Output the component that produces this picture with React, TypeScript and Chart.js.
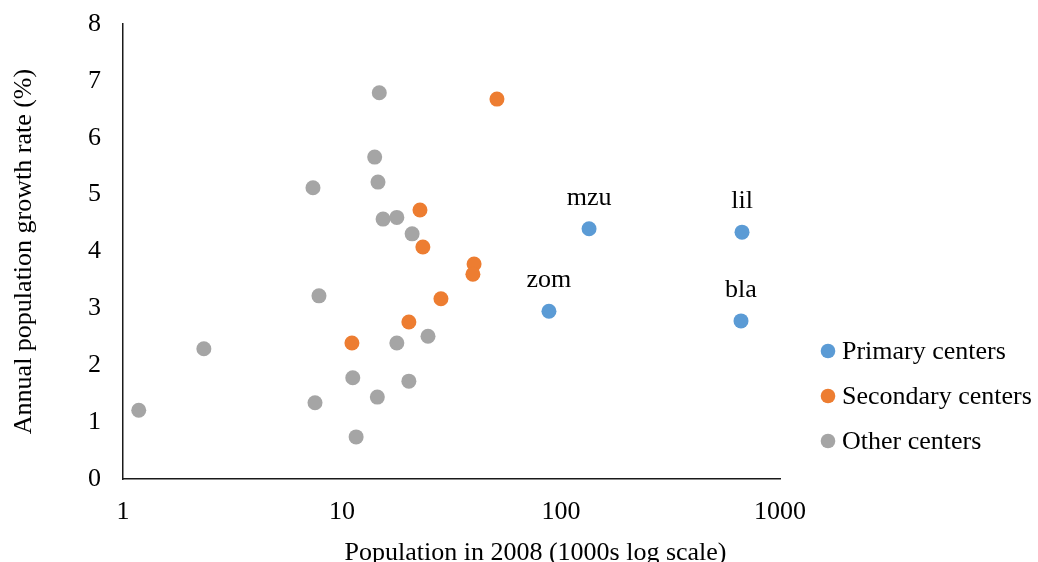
import { useEffect, useRef } from "react";
import { Chart, registerables } from "chart.js";

Chart.register(...registerables);

// Population in 2008 (thousands) and annual growth rate (%)
const primaryNames = ["mzu", "lil", "zom", "bla"];
const primaryPop = [134.3, 670.8, 88.1, 663.6];
const primaryRate = [4.4, 4.34, 2.95, 2.78];

const secondaryPop = [51.0, 22.7, 23.4, 40.1, 39.6, 28.3, 20.2, 11.1];
const secondaryRate = [6.68, 4.73, 4.08, 3.78, 3.6, 3.17, 2.76, 2.39];

const otherPop = [14.8, 14.1, 14.6, 7.37, 15.4, 17.8, 20.9, 7.85, 2.34, 24.7, 17.8, 11.2, 20.2, 7.53, 14.5, 1.18, 11.6];
const otherRate = [6.79, 5.66, 5.22, 5.12, 4.57, 4.6, 4.31, 3.22, 2.29, 2.51, 2.39, 1.78, 1.72, 1.34, 1.44, 1.21, 0.74];

const seriesNames = ["Primary centers", "Secondary centers", "Other centers"];
const seriesColors = ["#5B9BD5", "#ED7D31", "#A5A5A5"];

const xTickValues = [1, 10, 100, 1000];
const yMin = 0;
const yMax = 8;
const yStep = 1;

const xTitle = "Population in 2008 (1000s log scale)";
const yTitle = "Annual population growth rate (%)";

const FONT = '"Liberation Serif", "Times New Roman", serif';
const FONT_SIZE = 26;

const toPoints = (xs: number[], ys: number[]) => xs.map((x, i) => ({ x, y: ys[i] }));

const pointLabelPlugin = {
  id: "pointLabels",
  afterDatasetsDraw(chart: any) {
    const meta = chart.getDatasetMeta(0);
    const ctx = chart.ctx;
    ctx.save();
    ctx.font = `${FONT_SIZE}px ${FONT}`;
    ctx.fillStyle = "#000";
    ctx.textAlign = "center";
    ctx.textBaseline = "alphabetic";
    meta.data.forEach((el: any, i: number) => {
      ctx.fillText(primaryNames[i], el.x, el.y - 24);
    });
    ctx.restore();
  },
};

const sideLegendPlugin = {
  id: "sideLegend",
  afterDraw(chart: any) {
    const ctx = chart.ctx;
    const area = chart.chartArea;
    ctx.save();
    ctx.font = `${FONT_SIZE}px ${FONT}`;
    ctx.textAlign = "left";
    ctx.textBaseline = "middle";
    chart.data.datasets.forEach((ds: any, i: number) => {
      const cy = area.top + 327 + i * 45;
      const cx = area.right + 48;
      ctx.beginPath();
      ctx.fillStyle = ds.backgroundColor;
      ctx.arc(cx, cy, 7.3, 0, Math.PI * 2);
      ctx.fill();
      ctx.fillStyle = "#000";
      ctx.fillText(ds.label, cx + 14, cy + 1);
    });
    // x-axis title, placed as in the reference (offset right of plot centre)
    ctx.textAlign = "center";
    ctx.textBaseline = "alphabetic";
    ctx.fillText(xTitle, (area.left + area.right) / 2 + 84, chart.height - 2);
    ctx.restore();
  },
};

export default function App() {
  const canvasRef = useRef<HTMLCanvasElement | null>(null);

  useEffect(() => {
    if (!canvasRef.current) return;
    const series = [
      toPoints(primaryPop, primaryRate),
      toPoints(secondaryPop, secondaryRate),
      toPoints(otherPop, otherRate),
    ];
    const chart = new Chart(canvasRef.current, {
      type: "scatter",
      data: {
        datasets: series.map((data, i) => ({
          label: seriesNames[i],
          data,
          backgroundColor: seriesColors[i],
          borderColor: seriesColors[i],
          borderWidth: 0,
          pointRadius: 7.5,
          pointHoverRadius: 7.5,
        })),
      },
      options: {
        animation: false,
        responsive: true,
        maintainAspectRatio: false,
        layout: { padding: { top: 24, right: 258, left: 0, bottom: 0 } },
        plugins: {
          legend: { display: false },
          tooltip: { enabled: false },
        },
        scales: {
          x: {
            type: "logarithmic",
            min: 1,
            max: 1000,
            afterBuildTicks: (scale: any) => {
              scale.ticks = xTickValues.map((v) => ({ value: v }));
            },
            afterFit: (scale: any) => {
              scale.height = 83;
              scale.paddingLeft = 0;
              scale.paddingRight = 0;
            },
            grid: { display: false },
            border: { display: true, color: "#1a1a1a", width: 1.5 },
            ticks: {
              color: "#000",
              font: { family: FONT, size: FONT_SIZE },
              padding: 10,
              maxRotation: 0,
              autoSkip: false,
              callback: (v: any) => String(v),
            },
            title: { display: false, text: xTitle },
          },
          y: {
            min: yMin,
            max: yMax,
            afterFit: (scale: any) => {
              scale.width = 123;
              scale.paddingTop = 0;
              scale.paddingBottom = 0;
            },
            grid: { display: false },
            border: { display: true, color: "#1a1a1a", width: 1.5 },
            ticks: {
              stepSize: yStep,
              color: "#000",
              font: { family: FONT, size: FONT_SIZE },
              padding: 14,
            },
            title: {
              display: true,
              text: yTitle,
              color: "#000",
              font: { family: FONT, size: FONT_SIZE },
              padding: { top: 9, bottom: 0 },
            },
          },
        },
      },
      plugins: [pointLabelPlugin, sideLegendPlugin],
    });
    return () => chart.destroy();
  }, []);

  return (
    <div style={{ position: "fixed", left: 0, top: 0, width: 1038, height: 562, background: "#fff" }}>
      <canvas ref={canvasRef} />
    </div>
  );
}
